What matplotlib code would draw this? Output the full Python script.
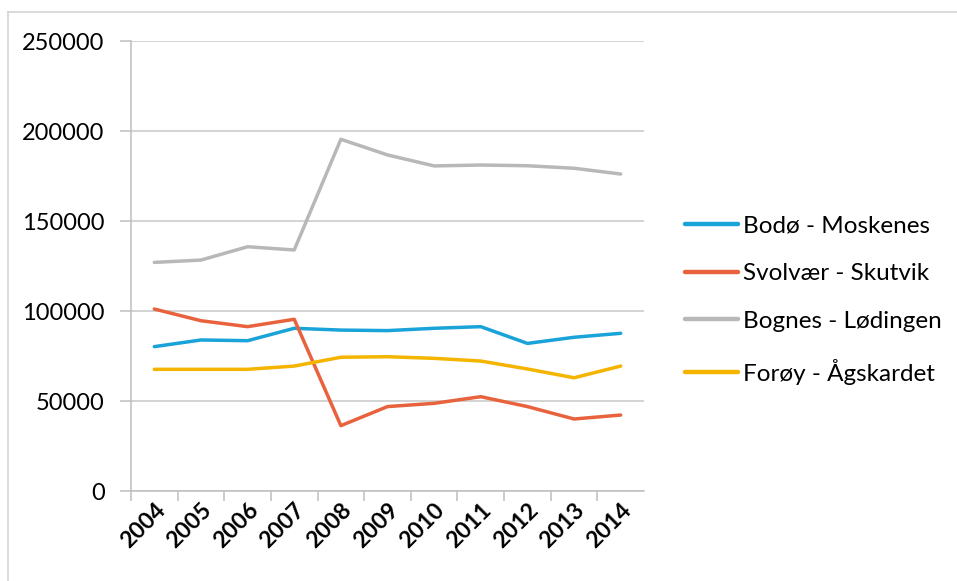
import matplotlib
matplotlib.use("Agg")
import matplotlib.pyplot as plt
from matplotlib.lines import Line2D

years = ["2004", "2005", "2006", "2007", "2008", "2009", "2010", "2011", "2012", "2013", "2014"]
bodo_moskenes = [80200, 83900, 83500, 90400, 89400, 89100, 90400, 91300, 82000, 85400, 87600]
svolvaer_skutvik = [101100, 94600, 91300, 95400, 36300, 46900, 48700, 52400, 46900, 40000, 42200]
bognes_lodingen = [127000, 128300, 135700, 133900, 195400, 186700, 180600, 181100, 180700, 179300, 176100]
foroy_agskardet = [67600, 67600, 67600, 69400, 74300, 74600, 73700, 72200, 67800, 62900, 69400]

series_names = ["Bodø - Moskenes", "Svolvær - Skutvik", "Bognes - Lødingen", "Forøy - Ågskardet"]
series_values = [bodo_moskenes, svolvaer_skutvik, bognes_lodingen, foroy_agskardet]
colors = ["#1AA3D8", "#E8623E", "#B8B8B8", "#F4B400"]
yticks = [0, 50000, 100000, 150000, 200000, 250000]

plt.rcParams['font.family'] = ['Lato', 'DejaVu Sans']

W, H = 957, 581
fig = plt.figure(figsize=(W / 100, H / 100), dpi=100)
ax = fig.add_axes([131 / W, (H - 491) / H, (644 - 131) / W, (491 - 41) / H])

x = [i + 0.5 for i in range(len(years))]
for name, vals, c in zip(series_names, series_values, colors):
    ax.plot(x, vals, color=c, lw=2.5, label=name, solid_capstyle='round', solid_joinstyle='round')

ax.set_xlim(0, 11)
ax.set_ylim(0, 250000)
ax.set_yticks(yticks)
ax.set_yticklabels([str(v) for v in yticks], fontsize=17)
ax.yaxis.grid(True, color="#C8C8C8", lw=1.1)
ax.set_axisbelow(True)

ax.set_xticks(x)
ax.set_xticklabels(years, rotation=45, ha='right', va='top', rotation_mode='anchor',
                   fontsize=16.5, fontweight='bold')
ax.set_xticks(range(0, 11), minor=True)
ax.tick_params(axis='x', which='major', length=0, pad=6)
ax.tick_params(axis='x', which='minor', length=7, color="#BFBFBF", width=1.1)
ax.tick_params(axis='y', length=8, color="#BFBFBF", width=1.1, pad=11)

for s in ["top", "right"]:
    ax.spines[s].set_visible(False)
for s in ["left", "bottom"]:
    ax.spines[s].set_color("#BFBFBF")
    ax.spines[s].set_linewidth(1.1)

leg = fig.legend(loc='center left', bbox_to_anchor=(685 / W, (H - 300) / H), frameon=False,
                 fontsize=17.5, handlelength=2.2, handletextpad=0.2, labelspacing=1.1,
                 borderaxespad=0, borderpad=0)
for lh in leg.get_lines():
    lh.set_linewidth(3.2)

fig.add_artist(Line2D([8 / W, 1], [(H - 12) / H, (H - 12) / H], color="#D4D4D4", lw=1.2))
fig.add_artist(Line2D([8 / W, 8 / W], [0, (H - 12) / H], color="#D4D4D4", lw=1.2))

fig.savefig("out.png", dpi=100)
